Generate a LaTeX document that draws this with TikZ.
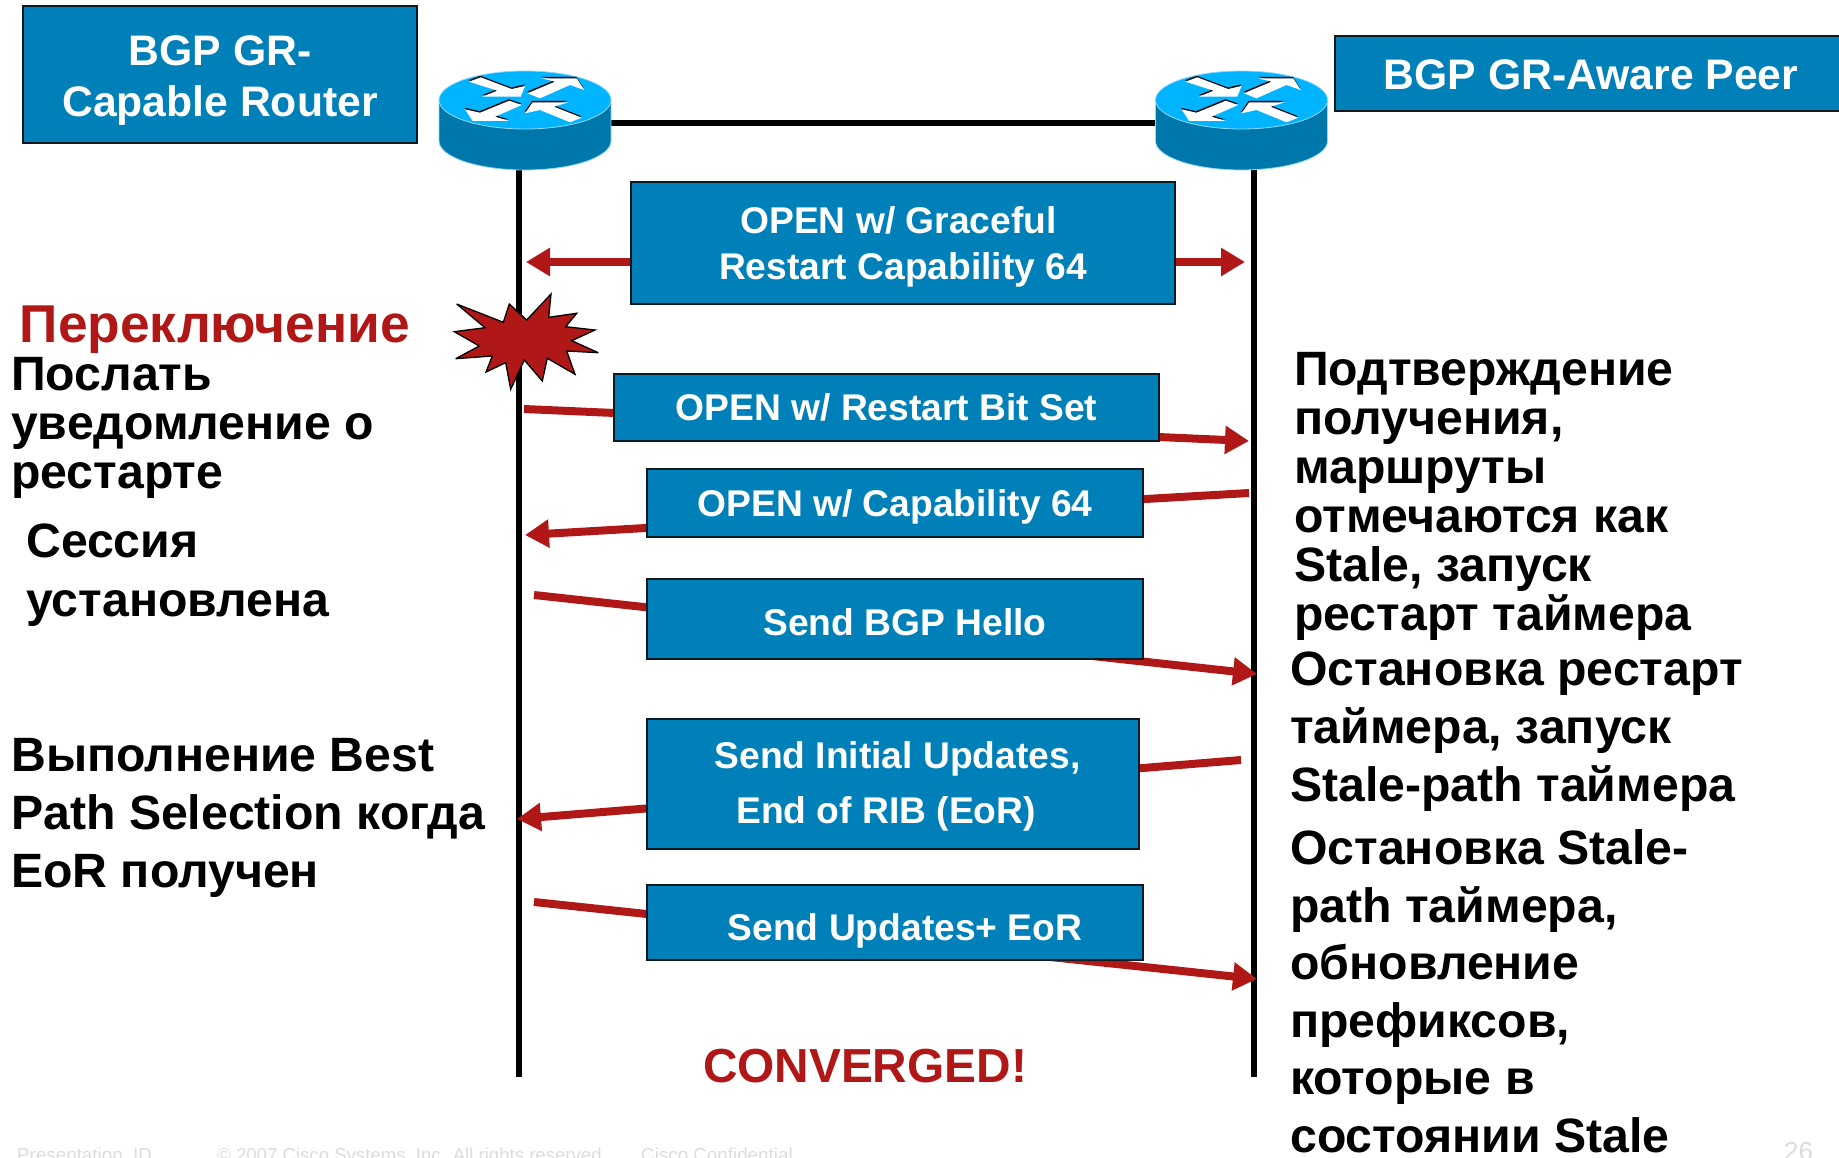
\documentclass[tikz,border=0pt]{standalone}
\usepackage{fontspec}
\setmainfont{Liberation Sans}
\usetikzlibrary{arrows.meta, backgrounds}
\definecolor{ciscoblue}{HTML}{0080B8}
\definecolor{ciscodark}{HTML}{0077AA}
\definecolor{ciscolight}{HTML}{00B4FF}
\definecolor{ciscoedge}{HTML}{90D8F8}
\definecolor{boxedge}{HTML}{101820}
\definecolor{signalred}{HTML}{B01818}
\definecolor{footgray}{HTML}{DCDCDC}
\newcommand{\routerarrow}[1]{
    \fill[black, shift={(-0.4,-1.5)}] #1;
    \fill[white] #1;
}
\tikzset{
    msgbox/.style = {draw = boxedge, line width = 2.4pt, fill = ciscoblue, text = white, inner sep = 0pt, align = center,
        font = \bfseries\fontsize{37.2}{46}\selectfont},
    titlebox/.style = {msgbox, font = \bfseries\fontsize{42.7}{51}\selectfont},
    sidetext/.style = {anchor = north west, inner sep = 0pt, align = left, font = \bfseries\fontsize{48.2}{49}\selectfont},
    wire/.style = {line width = 6pt, black},
    signal/.style = {line width = 8pt, signalred, -{Triangle[length = 24pt, width = 27pt]}},
    footer/.style = {anchor = base west, inner sep = 0pt, text = footgray, font = \fontsize{18.8}{19}\selectfont},
    routerspot/.style = {minimum width = 172pt, minimum height = 94pt, inner sep = 0pt},
    router/.pic = {
        \path[fill = ciscodark, draw = ciscoedge, line width = 0.8pt] (-86,-23) -- (-86,18)
            arc [start angle = 180, end angle = 360, x radius = 86pt, y radius = 29pt] -- (86,-23) -- cycle;
        \path[fill = ciscolight, draw = ciscoedge, line width = 0.8pt] (0,-23) ellipse [x radius = 86pt, y radius = 29pt];
        \begin{scope}[shift = {(0,-23)}]
            \routerarrow{(-56,-18.3) -- (-44.3,-22.7) -- (-13.3,-11) -- (0,-14) -- (-4.3,-3.3) -- (-42.7,-3.3) -- (-27.7,-9.3) -- cycle}
            \routerarrow{(2.3,-6.7) -- (30,-18.3) -- (16.7,-21.7) -- (51.7,-21.7) -- (59.3,-10) -- (45,-15) -- (15,-1.7) -- cycle}
            \routerarrow{(-3.3,5) -- (-15.7,0.7) -- (-45,12.7) -- (-60,9.3) -- (-52.3,21) -- (-15.7,21) -- (-30,16.7) -- cycle}
            \routerarrow{(0,13.3) -- (7.7,2.3) -- (43.3,2.3) -- (29,6.7) -- (56.7,17.7) -- (45,22.3) -- (15,10) -- cycle}
        \end{scope}
    }
}
\begin{document}
\begin{tikzpicture}[x = 1pt, y = -1pt]
    \useasboundingbox (0,0) rectangle (1839,1158);

    \node[titlebox, minimum width = 394pt, minimum height = 137pt] (capable) at (220,74.5) {\rule{0pt}{42pt}BGP GR-\\Capable Router};
    \node[titlebox, minimum width = 512pt, minimum height = 75pt] (aware) at (1591,73.5) {\rule{0pt}{33pt}BGP GR-Aware Peer};

    \node[routerspot] (routerL) at (525,123) {};
    \node[routerspot] (routerR) at (1241.5,123) {};
    \pic at (routerL.center) {router};
    \pic at (routerR.center) {router};

    \coordinate (lifeL) at (518.5,1077);
    \coordinate (lifeR) at (1254,1077);

    \node[msgbox, minimum width = 544pt, minimum height = 122pt] (graceful) at (903,243) {\rule{0pt}{35pt}\hspace*{-9pt}OPEN w/ Graceful\\Restart Capability 64};
    \node[msgbox, minimum width = 545pt, minimum height = 67pt] (restartbit) at (886.5,407.5) {OPEN w/ Restart Bit Set};
    \node[msgbox, minimum width = 496pt, minimum height = 68pt] (capability) at (895,503) {\rule{0pt}{34pt}OPEN w/ Capability 64};
    \node[msgbox, minimum width = 496pt, minimum height = 80pt] (hello) at (895,619) {\rule{0pt}{34pt}\hspace*{20pt}Send BGP Hello};
    \node[msgbox, minimum width = 492pt, minimum height = 130pt, font = \bfseries\fontsize{37.2}{55}\selectfont] (initial) at (893,784) {\rule{0pt}{32pt}\hspace*{9pt}Send Initial Updates,\\\hspace*{-14pt}End of RIB (EoR)};
    \node[msgbox, minimum width = 496pt, minimum height = 75pt] (updates) at (895,922.5) {\rule{0pt}{43pt}\hspace*{20pt}Send Updates+ EoR};

    \coordinate (restartL) at (524,409);
    \coordinate (restartR) at (1249,441);
    \coordinate (capR) at (1249,493);
    \coordinate (capL) at (525,535);
    \coordinate (helloL) at (534,595);
    \coordinate (helloR) at (1257,674);
    \coordinate (initialR) at (1241,760);
    \coordinate (initialL) at (517,819);
    \coordinate (updatesL) at (534,902);
    \coordinate (updatesR) at (1257,979);
    \coordinate (gracefulL) at (526,262);
    \coordinate (gracefulR) at (1245,262);

    \begin{scope}[on background layer]
        \draw[wire] (routerL.east) -- (routerR.west);
        \draw[wire] (lifeL |- routerL.south) -- (lifeL);
        \draw[wire] (lifeR |- routerR.south) -- (lifeR);
        \draw[signal] (graceful.west |- gracefulL) -- (gracefulL);
        \draw[signal] (graceful.east |- gracefulR) -- (gracefulR);
        \draw[signal] (restartL) -- (restartR);
        \draw[signal] (capR) -- (capL);
        \draw[signal] (helloL) -- (helloR);
        \draw[signal] (initialR) -- (initialL);
        \draw[signal] (updatesL) -- (updatesR);
    \end{scope}

    \draw[fill = signalred, draw = black, line width = 1.3pt, line join = miter, miter limit = 4]
        (456.7,304) -- (503.3,322.3) -- (509.3,304) -- (526.7,320) -- (551,294) -- (548.7,317.3)
        -- (576.7,313.3) -- (565.7,326.7) -- (595,330) -- (571.7,340.7) -- (598.3,352.7) -- (566.7,351)
        -- (575,374.3) -- (547.3,358.3) -- (542.3,381) -- (524.3,360) -- (510.7,389.3) -- (505.7,362.7)
        -- (486,372) -- (492.3,356) -- (455.7,358.7) -- (479.3,346) -- (454.3,331.7) -- (485,327.7) -- cycle;

    \node[sidetext, text = signalred, font = \bfseries\fontsize{53.3}{49}\selectfont] (switchover) at (19.5,305.5) {Переключение};
    \node[sidetext] (notify) at (11,357.5) {Послать\\уведомление о\\рестарте};
    \node[sidetext, font = \bfseries\fontsize{48.2}{59}\selectfont] (session) at (26,524) {Сессия\\установлена};
    \node[sidetext, font = \bfseries\fontsize{48.2}{58}\selectfont] (bestpath) at (11,738) {Выполнение Best\\Path Selection когда\\EoR получен};

    \node[sidetext] (confirm) at (1294,352) {Подтверждение\\получения,\\маршруты\\отмечаются как\\Stale, запуск\\рестарт таймера};
    \node[sidetext, font = \bfseries\fontsize{48.2}{58}\selectfont] (stoptimer) at (1290,652) {Остановка рестарт\\таймера, запуск\\Stale-path таймера};
    \node[sidetext, font = \bfseries\fontsize{48.2}{57.5}\selectfont] (stopstale) at (1290,829.5) {Остановка Stale-\\path таймера,\\обновление\\префиксов,\\которые в\\состоянии Stale};

    \node[anchor = base, inner sep = 0pt, text = signalred, font = \bfseries\fontsize{47.8}{50}\selectfont] (converged) at (865,1082.5) {CONVERGED!};

    \node[footer] (presentation) at (17,1161) {Presentation\_ID};
    \node[footer, font = \fontsize{18.6}{19}\selectfont] (copyright) at (217,1161) {© 2007 Cisco Systems, Inc. All rights reserved.};
    \node[footer] (confidential) at (641,1161) {Cisco Confidential};
    \node[footer, font = \fontsize{26}{26}\selectfont] (pagenumber) at (1784,1160) {26};
\end{tikzpicture}
\end{document}
